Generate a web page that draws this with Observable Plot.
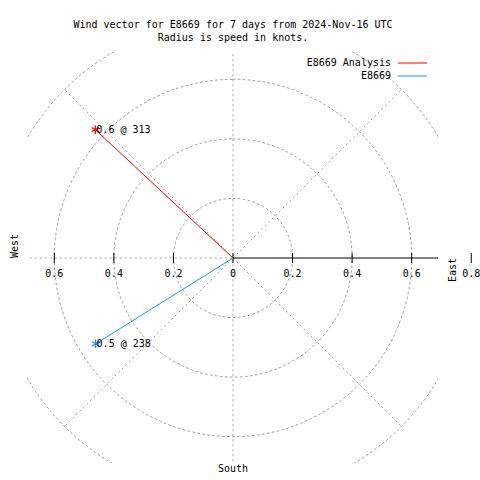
<!DOCTYPE html>
<html>
<head>
<meta charset="utf-8">
<script src="https://cdn.jsdelivr.net/npm/d3@7"></script>
<script src="https://cdn.jsdelivr.net/npm/@observablehq/plot@0.6"></script>
<style>
  body { margin: 0; background: #fff; }
  #chart svg { display: block; }
</style>
</head>
<body>
<div id="chart"></div>
<script>
// ---- data ----
const seriesNames = ["E8669 Analysis", "E8669"];
const speeds = [0.632, 0.544];          // knots
const directions = [313, 238];          // degrees
const seriesColors = ["#ff0000", "#1e90ff"];
const ringRadii = [0.2, 0.4, 0.6, 0.8];
const spokeAngles = [45, 135, 225, 315];
const leftTicks = [-0.6, -0.4, -0.2, 0];
const leftTickLabels = ["0.6", "0.4", "0.2", "0"];
const rightTicks = [0.2, 0.4, 0.6, 0.8];
const rightTickLabels = ["0.2", "0.4", "0.6", "0.8"];
const titleLines = ["Wind vector for E8669 for 7 days from 2024-Nov-16 UTC", "Radius is speed in knots."];
const outerRadius = 0.8;
const domain = [-0.69, 0.69];

// ---- derived ----
const rad = a => a * Math.PI / 180;
const vectors = seriesNames.map((name, i) => ({
  name,
  color: seriesColors[i],
  x: speeds[i] * Math.sin(rad(directions[i])),
  y: speeds[i] * Math.cos(rad(directions[i])),
  label: `${speeds[i].toFixed(1)} @ ${directions[i]}`
}));
const ringPts = [];
for (const r of ringRadii) for (let a = 0; a <= 360; a += 2) ringPts.push({ring: r, x: r * Math.sin(rad(a)), y: r * Math.cos(rad(a))});
const spokes = spokeAngles.map(a => ({x: outerRadius * Math.sin(rad(a)), y: outerRadius * Math.cos(rad(a))}));
const ticksAll = [...leftTicks.map((v, i) => ({v, label: leftTickLabels[i]})), ...rightTicks.map((v, i) => ({v, label: rightTickLabels[i]}))];

const grid = {stroke: "#a0a0a0", strokeDasharray: "2,3", strokeWidth: 1};
const font = "DejaVu Sans Mono";

function legendMark(index, scales, values, dims) {
  const g = d3.create("svg:g").attr("font-family", font).attr("font-size", 10);
  const xr = dims.width - dims.marginRight;
  seriesNames.forEach((name, i) => {
    const y = dims.marginTop + 11 + i * 13;
    g.append("text").attr("x", xr - 47).attr("y", y).attr("dy", "0.32em")
      .attr("text-anchor", "end").attr("fill", "black").text(name);
    g.append("line").attr("x1", xr - 40).attr("x2", xr - 11).attr("y1", y).attr("y2", y)
      .attr("stroke", seriesColors[i]).attr("stroke-width", 1);
  });
  return g.node();
}

const chart = Plot.plot({
  width: 480,
  height: 480,
  marginLeft: 27,
  marginRight: 42,
  marginTop: 52,
  marginBottom: 17,
  x: {domain, axis: null},
  y: {domain, axis: null},
  style: {fontFamily: font, fontSize: "10px", background: "white"},
  marks: [
    Plot.line(ringPts, {x: "x", y: "y", z: "ring", ...grid, clip: "frame"}),
    Plot.link(spokes, {x1: 0, y1: 0, x2: "x", y2: "y", ...grid, clip: "frame"}),
    Plot.link([0], {x1: 0, x2: 0, y1: -outerRadius, y2: outerRadius, ...grid, clip: "frame"}),
    Plot.link([0], {x1: -outerRadius, x2: 0, y1: 0, y2: 0, ...grid, clip: "frame"}),
    Plot.link([0], {x1: 0, x2: outerRadius, y1: 0, y2: 0, stroke: "black", clip: "frame"}),
    Plot.link(ticksAll, {x1: "v", x2: "v", y1: -0.017, y2: 0.017, stroke: "black"}),
    Plot.text(ticksAll, {x: "v", y: 0, text: "label", dy: 16, fill: "black"}),
    Plot.link(vectors, {x1: 0, y1: 0, x2: "x", y2: "y", stroke: "color"}),
    Plot.dot(vectors, {x: "x", y: "y", stroke: "color", symbol: "asterisk", r: 4, strokeWidth: 1.2}),
    Plot.text(vectors, {x: "x", y: "y", text: "label", textAnchor: "start", dx: 1, fill: "black"}),
    Plot.text([titleLines[0]], {frameAnchor: "top", dy: -32, text: d => d, fill: "black"}),
    Plot.text([titleLines[1]], {frameAnchor: "top", dy: -19, text: d => d, fill: "black"}),
    Plot.text(["West"], {frameAnchor: "left", dx: -13, rotate: -90, text: d => d, fill: "black"}),
    Plot.text(["East"], {frameAnchor: "right", dx: 14, rotate: -90, text: d => d, fill: "black"}),
    Plot.text(["South"], {frameAnchor: "bottom", dy: 8, text: d => d, fill: "black"}),
    legendMark
  ]
});
document.getElementById("chart").append(chart);
</script>
</body>
</html>
